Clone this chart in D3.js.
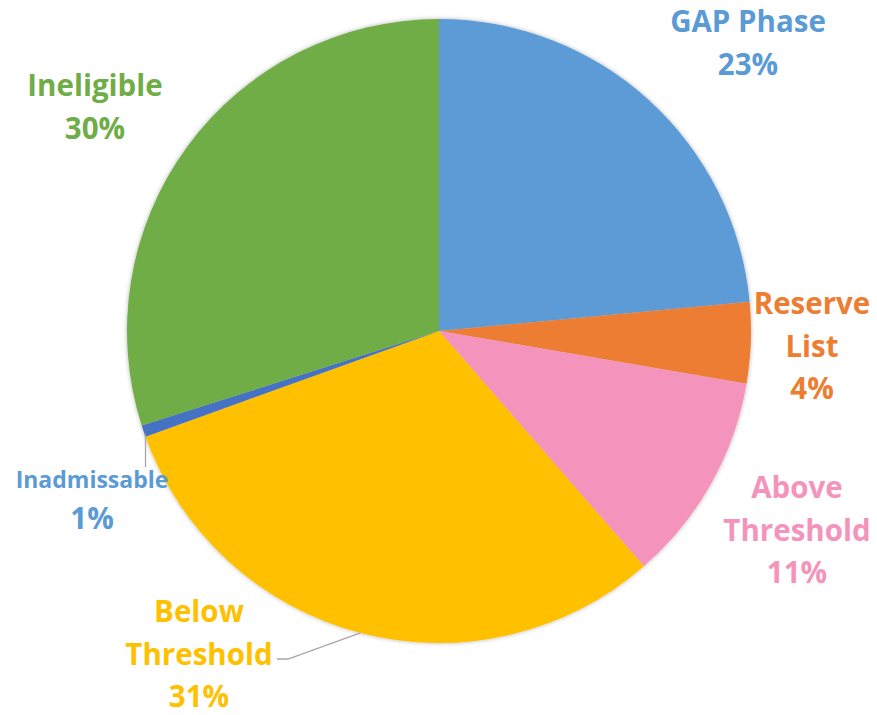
<!DOCTYPE html>
<html>
<head>
<meta charset="utf-8">
<script src="https://cdn.jsdelivr.net/npm/d3@7"></script>
<style>
  body { margin: 0; background: #fff; }
  svg { display: block; }
</style>
</head>
<body>
<svg id="chart"></svg>
<script>
const categories = ['GAP Phase', 'Reserve List', 'Above Threshold', 'Below Threshold', 'Inadmissable', 'Ineligible'];
const values = [23.5, 4.2, 10.9, 30.9, 0.6, 29.9];
const labelText = ['23%', '4%', '11%', '31%', '1%', '30%'];

const sliceColors = ['#5B9BD5', '#ED7D31', '#F494BC', '#FFC000', '#4472C4', '#70AD47'];
const labelColors = ['#5B9BD5', '#ED7D31', '#F494BC', '#FFC000', '#5B9BD5', '#70AD47'];

const width = 877, height = 715;
const cx = 439, cy = 331, radius = 312;

// label placement: centre x and first baseline
const labelLayout = {
  'GAP Phase':       { x: 748, y: 32,  lines: ['GAP Phase'] },
  'Reserve List':    { x: 812, y: 314, lines: ['Reserve', 'List'] },
  'Above Threshold': { x: 797, y: 498, lines: ['Above', 'Threshold'] },
  'Below Threshold': { x: 199, y: 622, lines: ['Below', 'Threshold'] },
  'Inadmissable':    { x: 92,  y: 488, lines: ['Inadmissable'], small: true },
  'Ineligible':      { x: 95,  y: 96,  lines: ['Ineligible'] }
};

const svg = d3.select('#chart').attr('width', width).attr('height', height);

const defs = svg.append('defs');
const f = defs.append('filter').attr('id', 'shadow').attr('x', '-10%').attr('y', '-10%').attr('width', '120%').attr('height', '120%');
f.append('feDropShadow').attr('dx', 0).attr('dy', 0).attr('stdDeviation', 2).attr('flood-color', '#000').attr('flood-opacity', 0.3);

const data = categories.map((c, i) => ({ name: c, value: values[i], color: sliceColors[i], labelColor: labelColors[i], pct: labelText[i] }));

const pie = d3.pie().value(d => d.value).sort(null);
const arc = d3.arc().innerRadius(0).outerRadius(radius);
const arcs = pie(data);

const g = svg.append('g').attr('transform', `translate(${cx},${cy})`);
g.append('g').attr('filter', 'url(#shadow)')
  .selectAll('path')
  .data(arcs)
  .enter()
  .append('path')
  .attr('d', arc)
  .attr('fill', d => d.data.color);

// leader lines
const pointOnEdge = (a, frac) => {
  const ang = a.startAngle + (a.endAngle - a.startAngle) * frac;
  return [cx + radius * Math.sin(ang), cy - radius * Math.cos(ang)];
};
const p1 = pointOnEdge(arcs[4], 0.5);
svg.append('path')
  .attr('d', d3.line()([[p1[0] + 1, p1[1] + 2], [p1[0] + 2, p1[1] + 6], [p1[0] + 2, 467]]))
  .attr('fill', 'none').attr('stroke', '#A6A6A6').attr('stroke-width', 1.3);
const p2 = pointOnEdge(arcs[3], 0.5);
svg.append('path')
  .attr('d', d3.line()([[p2[0], p2[1]], [288, 659], [277, 659]]))
  .attr('fill', 'none').attr('stroke', '#A6A6A6').attr('stroke-width', 1.3);

// labels
data.forEach(d => {
  const L = labelLayout[d.name];
  const fs = L.small ? 23 : 29.5;
  const lh = L.small ? 41 : 42.5;
  const t = svg.append('text')
    .attr('text-anchor', 'middle')
    .attr('fill', d.labelColor)
    .attr('font-family', '"Open Sans", Lato, sans-serif')
    .attr('font-weight', 700);
  const lines = L.lines.concat([d.pct]);
  lines.forEach((ln, i) => {
    t.append('tspan')
      .attr('x', L.x)
      .attr('y', L.y + i * lh)
      .attr('font-size', (L.small && i === lines.length - 1) ? 29.5 : fs)
      .text(ln);
  });
});
</script>
</body>
</html>
